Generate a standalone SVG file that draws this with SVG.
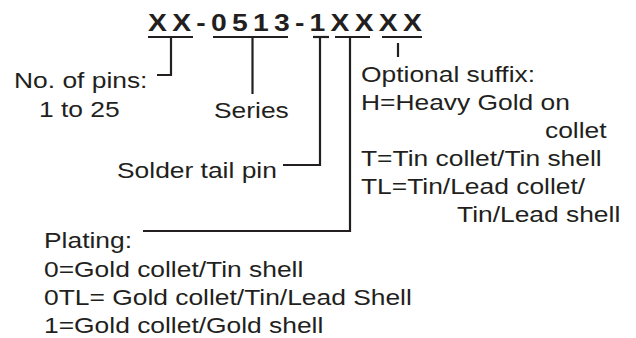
<svg xmlns="http://www.w3.org/2000/svg" width="636" height="338" viewBox="0 0 636 338">
  <style>
    .t { font-family: "Liberation Sans", Arial, Helvetica, sans-serif; font-size: 22px; fill: #231f20; }
    .title { font-family: "Liberation Sans", Arial, Helvetica, sans-serif; font-size: 24px; font-weight: bold; fill: #231f20; letter-spacing: 4.45px; }
    .ln { fill: none; stroke: #231f20; stroke-width: 2.2; stroke-linecap: butt; stroke-linejoin: miter; }
  </style>
  <rect width="636" height="338" fill="#ffffff"/>

  <g id="title">
    <text class="title" transform="translate(148,31) scale(1.18,1)">XX-0513-1XXXX</text>
    <line class="ln" x1="148" y1="37" x2="193" y2="37"/>
    <line class="ln" x1="213" y1="37" x2="288" y2="37"/>
    <line class="ln" x1="313" y1="37" x2="329" y2="37"/>
    <line class="ln" x1="335" y1="37" x2="370" y2="37"/>
    <line class="ln" x1="382" y1="37" x2="422" y2="37"/>
  </g>

  <g id="connectors">
    <path class="ln" d="M171,37 V75 H157"/>
    <path class="ln" d="M252.5,37 V94"/>
    <path class="ln" d="M320,37 V165 H283"/>
    <path class="ln" d="M350,37 V231 H143"/>
    <path class="ln" d="M398,43 V57"/>
  </g>

  <g id="pins">
    <text class="t" transform="translate(14,88) scale(1.2,1)">No. of pins:</text>
    <text class="t" transform="translate(39,117) scale(1.2,1)">1 to 25</text>
  </g>

  <g id="series">
    <text class="t" transform="translate(214,118) scale(1.2,1)">Series</text>
  </g>

  <g id="solder">
    <text class="t" transform="translate(117,178) scale(1.2,1)">Solder tail pin</text>
  </g>

  <g id="suffix">
    <text class="t" transform="translate(361,82) scale(1.2,1)">Optional suffix:</text>
    <text class="t" transform="translate(361,110) scale(1.2,1)">H=Heavy Gold on</text>
    <text class="t" transform="translate(545,138) scale(1.2,1)">collet</text>
    <text class="t" transform="translate(361,166) scale(1.2,1)">T=Tin collet/Tin shell</text>
    <text class="t" transform="translate(361,194) scale(1.2,1)">TL=Tin/Lead collet/</text>
    <text class="t" transform="translate(457,222) scale(1.2,1)">Tin/Lead shell</text>
  </g>

  <g id="plating">
    <text class="t" transform="translate(44,248) scale(1.2,1)">Plating:</text>
    <text class="t" transform="translate(44,277) scale(1.2,1)">0=Gold collet/Tin shell</text>
    <text class="t" transform="translate(44,305) scale(1.2,1)">0TL= Gold collet/Tin/Lead Shell</text>
    <text class="t" transform="translate(44,333) scale(1.2,1)">1=Gold collet/Gold shell</text>
  </g>
</svg>
